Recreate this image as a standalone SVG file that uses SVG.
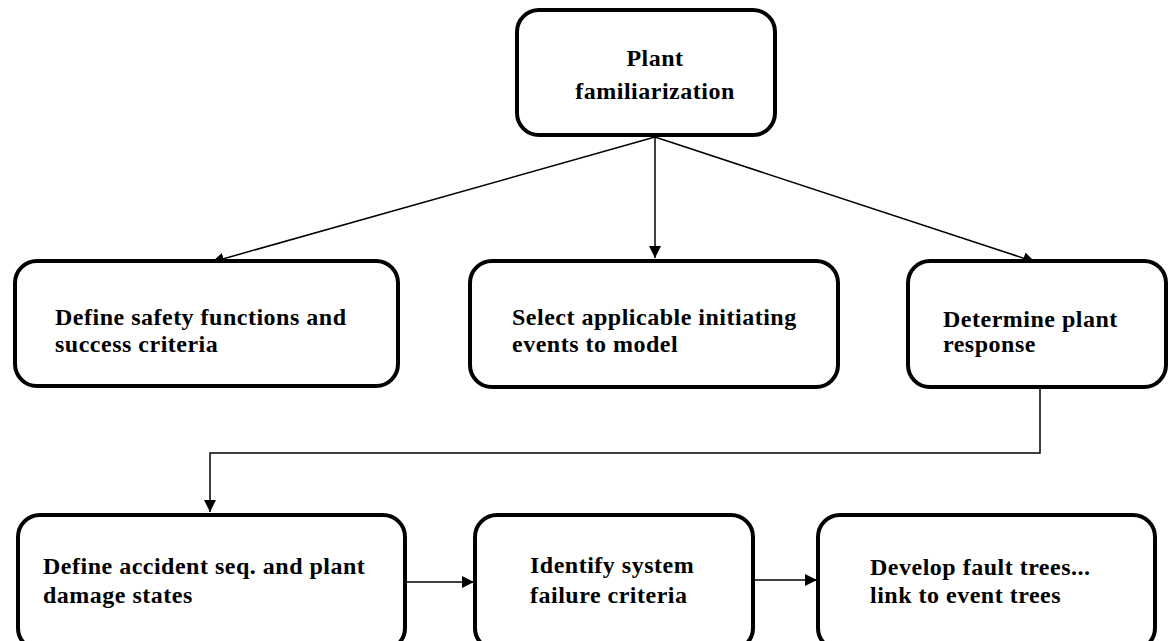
<svg xmlns="http://www.w3.org/2000/svg" width="1169" height="641" viewBox="0 0 1169 641">
<style>
.box{fill:#fff;stroke:#000;stroke-width:4}
.t{font-family:"Liberation Serif","Times New Roman",serif;font-weight:bold;font-size:24px;letter-spacing:0.5px;fill:#000}
.c{fill:none;stroke:#000;stroke-width:1.5}
</style>
<defs>
<marker id="ah" viewBox="0 0 10 10" refX="10" refY="5" markerWidth="12" markerHeight="12" markerUnits="userSpaceOnUse" orient="auto">
<path d="M0,0 L10,5 L0,10 Z" fill="#000"/>
</marker>
</defs>
<rect width="1169" height="641" fill="#fff"/>
<g id="connectors">
<line class="c" x1="655" y1="137" x2="212" y2="262" marker-end="url(#ah)"/>
<line class="c" x1="655" y1="137" x2="655" y2="258" marker-end="url(#ah)"/>
<line class="c" x1="655" y1="137" x2="1035" y2="262" marker-end="url(#ah)"/>
<polyline class="c" points="1040,389 1040,453 210,453 210,512" marker-end="url(#ah)"/>
<line class="c" x1="405" y1="582" x2="474" y2="582" marker-end="url(#ah)"/>
<line class="c" x1="754" y1="580" x2="817" y2="580" marker-end="url(#ah)"/>
</g>
<g id="n1">
<rect class="box" x="517" y="10" width="258" height="125" rx="22"/>
<text class="t" x="655" y="66" text-anchor="middle">Plant</text>
<text class="t" x="655" y="99" text-anchor="middle">familiarization</text>
</g>
<g id="n2">
<rect class="box" x="15" y="261" width="383" height="125" rx="22"/>
<text class="t" x="55" y="325">Define safety functions and</text>
<text class="t" x="55" y="352">success criteria</text>
</g>
<g id="n3">
<rect class="box" x="470" y="261" width="368" height="126" rx="22"/>
<text class="t" x="512" y="325">Select applicable initiating</text>
<text class="t" x="512" y="352">events to model</text>
</g>
<g id="n4">
<rect class="box" x="908" y="261" width="258" height="126" rx="22"/>
<text class="t" x="943" y="327">Determine plant</text>
<text class="t" x="943" y="352">response</text>
</g>
<g id="n5">
<rect class="box" x="18" y="515" width="387" height="135" rx="22"/>
<text class="t" x="43" y="574">Define accident seq. and plant</text>
<text class="t" x="43" y="603">damage states</text>
</g>
<g id="n6">
<rect class="box" x="475" y="515" width="278" height="135" rx="22"/>
<text class="t" x="530" y="573">Identify system</text>
<text class="t" x="530" y="603">failure criteria</text>
</g>
<g id="n7">
<rect class="box" x="818" y="515" width="337" height="135" rx="22"/>
<text class="t" x="870" y="575">Develop fault trees...</text>
<text class="t" x="870" y="603">link to event trees</text>
</g>
</svg>
